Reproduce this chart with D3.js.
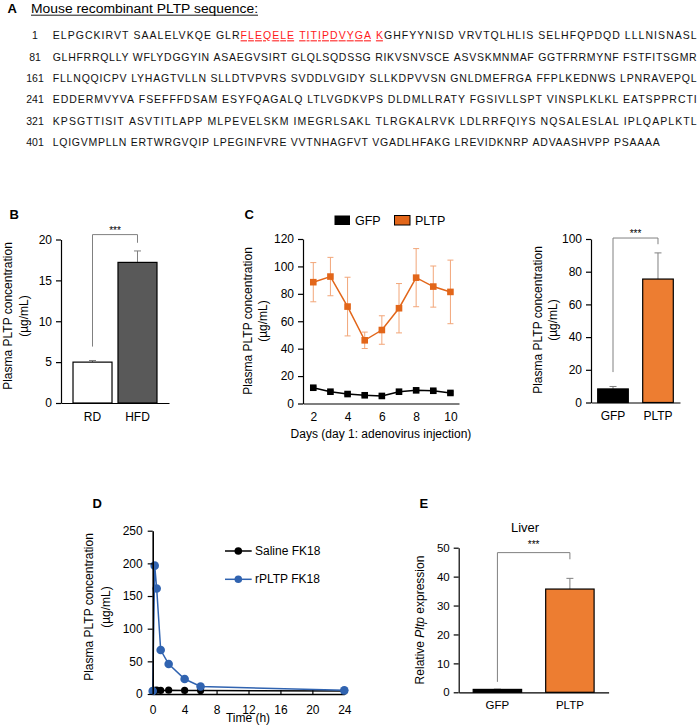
<!DOCTYPE html>
<html><head><meta charset="utf-8">
<script src="https://cdn.jsdelivr.net/npm/d3@7"></script>
<style>body{margin:0;background:#fff} svg{display:block} text{font-family:"Liberation Sans",Arial,sans-serif}</style>
</head><body><svg id="c" width="700" height="725"></svg>
<script>
// ---------- DATA ----------
const seqTitle = "Mouse recombinant PLTP sequence:";
const seqStarts = [1, 81, 161, 241, 321, 401];
const seqLines = [
  "ELPGCKIRVT SAALELVKQE GLRFLEQELE TITIPDVYGA KGHFYYNISD VRVTQLHLIS SELHFQPDQD LLLNISNASL",
  "GLHFRRQLLY WFLYDGGYIN ASAEGVSIRT GLQLSQDSSG RIKVSNVSCE ASVSKMNMAF GGTFRRMYNF FSTFITSGMR",
  "FLLNQQICPV LYHAGTVLLN SLLDTVPVRS SVDDLVGIDY SLLKDPVVSN GNLDMEFRGA FFPLKEDNWS LPNRAVEPQL",
  "EDDERMVYVA FSEFFFDSAM ESYFQAGALQ LTLVGDKVPS DLDMLLRATY FGSIVLLSPT VINSPLKLKL EATSPPRCTI",
  "KPSGTTISIT ASVTITLAPP MLPEVELSKM IMEGRLSAKL TLRGKALRVK LDLRRFQIYS NQSALESLAL IPLQAPLKTL",
  "LQIGVMPLLN ERTWRGVQIP LPEGINFVRE VVTNHAGFVT VGADLHFAKG LREVIDKNRP ADVAASHVPP PSAAAA"
];
const peptideRange = [24, 41]; // residues highlighted (1-based, inclusive)

// Panel B
const bCats = ["RD", "HFD"];
const bVals = [5.0, 17.2];
const bErr = [0.2, 1.4];
const bTicks = [0, 5, 10, 15, 20];
const bBracket = [6.9, 20.6, 19.6];

// Panel C (time course)
const cDays = [2, 3, 4, 5, 6, 7, 8, 9, 10];
const cGFP = [11.5, 8.6, 6.9, 6.0, 5.5, 8.6, 9.6, 9.3, 7.7];
const cGFPErr = [1.0, 0.8, 0.8, 0.7, 0.7, 0.9, 1.0, 0.9, 0.8];
const cPLTP = [88.5, 92.6, 70.7, 46.1, 53.6, 69.5, 91.8, 85.3, 81.4];
const cPLTPErr = [14.3, 14.0, 21.4, 6.0, 10.4, 18.0, 21.2, 15.0, 23.2];
const cTicksY = [0, 20, 40, 60, 80, 100, 120];
const cTicksX = [2, 4, 6, 8, 10];
const cSeries = ["GFP", "PLTP"];

// Panel C (bar)
const c2Cats = ["GFP", "PLTP"];
const c2Vals = [8.3, 75.5];
const c2Err = [1.5, 16.0];
const c2Ticks = [0, 20, 40, 60, 80, 100];
const c2Bracket = [18.6, 100.6, 96.8];

// Panel D
const dTimes = [0, 0.25, 0.5, 1, 2, 4, 6, 24];
const dSaline = [5.0, 5.5, 6.0, 5.5, 5.8, 5.5, 5.2, 4.5];
const dRPLTP = [4.6, 196.5, 161.5, 67.3, 45.9, 22.9, 11.5, 5.6];
const dTicksX = [0, 4, 8, 12, 16, 20, 24];
const dTicksY = [0, 50, 100, 150, 200, 250];
const dSeries = ["Saline FK18", "rPLTP FK18"];

// Panel E
const eCats = ["GFP", "PLTP"];
const eVals = [1.0, 35.7];
const eErr = [0.1, 3.7];
const eTicks = [0, 10, 20, 30, 40, 50];
const eBracket = [3.6, 48.3, 46.0];

// ---------- STYLE ----------
const FONT = '"Liberation Sans", Arial, sans-serif';
const ORANGE = "#ED7D31", LINE_OR = "#E2661A", ERR_OR = "#F2A679", BLUE = "#3063B0", GREY = "#808080";

const svg = d3.select("#c");
svg.append("rect").attr("width", 700).attr("height", 725).attr("fill", "#fff");

function styleAxis(g, fs) {
  g.attr("font-family", FONT).attr("font-size", fs);
  g.selectAll("path.domain").attr("stroke", "#000").attr("stroke-width", 1.2);
  g.selectAll(".tick line").attr("stroke", "#000").attr("stroke-width", 1.2);
  g.selectAll(".tick text").attr("fill", "#000");
}
function yLabel(lines, xs, cy, fs) {
  lines.forEach((l, i) => {
    const t = svg.append("text").attr("transform", `translate(${xs[i]},${cy}) rotate(-90)`)
      .attr("text-anchor", "middle").attr("dominant-baseline", "central").attr("font-size", fs).attr("fill", "#000");
    if (Array.isArray(l)) l.forEach(p => t.append("tspan").attr("font-style", p.i ? "italic" : null).text(p.t));
    else t.text(l);
  });
}
function panelLetter(s, x, y) {
  svg.append("text").attr("x", x).attr("y", y).attr("font-size", 13).attr("font-weight", "bold").text(s);
}
function bracket(xL, xR, y, vals, starsY) {
  svg.append("path").attr("d", `M${xL},${y(vals[0])}V${y(vals[1])}H${xR}V${y(vals[2])}`)
    .attr("fill", "none").attr("stroke", GREY).attr("stroke-width", 1);
  svg.append("text").attr("x", (xL + xR) / 2).attr("y", starsY).attr("text-anchor", "middle")
    .attr("font-size", 10).attr("fill", "#000").text("***");
}
function barPanel(cfg) {
  const x = d3.scaleBand().domain(cfg.cats).range(cfg.xr).paddingInner(cfg.pi).paddingOuter(cfg.po);
  const y = d3.scaleLinear().domain([0, cfg.ymax]).range(cfg.yr);
  cfg.cats.forEach((c, i) => {
    const cx = x(c) + x.bandwidth() / 2;
    const g = svg.append("g").attr("stroke", GREY).attr("stroke-width", 1);
    g.append("line").attr("x1", cx).attr("x2", cx).attr("y1", y(cfg.vals[i])).attr("y2", y(cfg.vals[i] + cfg.err[i]));
    g.append("line").attr("x1", cx - 3.5).attr("x2", cx + 3.5).attr("y1", y(cfg.vals[i] + cfg.err[i])).attr("y2", y(cfg.vals[i] + cfg.err[i]));
  });
  svg.append("g").selectAll("rect").data(cfg.cats).join("rect")
    .attr("x", d => x(d)).attr("width", x.bandwidth())
    .attr("y", (d, i) => y(cfg.vals[i])).attr("height", (d, i) => y(0) - y(cfg.vals[i]))
    .attr("fill", (d, i) => cfg.colors[i]).attr("stroke", "#000").attr("stroke-width", 1.2);
  const ya = svg.append("g").attr("transform", `translate(${cfg.xr[0]},0)`)
    .call(d3.axisLeft(y).tickValues(cfg.ticks).tickSize(5).tickSizeOuter(0).tickPadding(4));
  styleAxis(ya, cfg.fs);
  const xa = svg.append("g").attr("transform", `translate(0,${cfg.yr[0]})`)
    .call(d3.axisBottom(x).tickSize(0).tickSizeOuter(0).tickPadding(cfg.xpad));
  styleAxis(xa, cfg.fs);
  const cx = c => x(c) + x.bandwidth() / 2;
  bracket(cx(cfg.cats[0]), cx(cfg.cats[1]), y, cfg.bracket, cfg.starsY);
  return { x, y };
}

// ---------- PANEL A ----------
panelLetter("A", 7.5, 12.7);
svg.append("text").attr("x", 31).attr("y", 12.7).attr("font-size", 12.5)
  .attr("textLength", 227).attr("lengthAdjust", "spacingAndGlyphs").text(seqTitle);
svg.append("line").attr("x1", 31).attr("x2", 258).attr("y1", 15.2).attr("y2", 15.2).attr("stroke", "#000").attr("stroke-width", 0.9);

const seqTexts = [];
seqLines.forEach((line, i) => {
  const y = 39.3 + i * 21.3;
  svg.append("text").attr("x", 35).attr("y", y).attr("text-anchor", "middle").attr("font-size", 10.5).attr("fill", "#111").text(seqStarts[i]);
  const t = svg.append("text").attr("x", 52.7).attr("y", y).attr("font-size", 10.5).attr("fill", "#111");
  let pos = seqStarts[i];
  line.split(" ").forEach((grp, gi) => {
    let seg = gi > 0 ? "\u00A0" : "", segRed = false;
    const flush = () => {
      if (!seg) return;
      const ts = t.append("tspan").text(seg);
      if (segRed) ts.attr("fill", "#FF1A1A").attr("text-decoration", "underline");
      seg = "";
    };
    for (const ch of grp) {
      const red = pos >= peptideRange[0] && pos <= peptideRange[1];
      if (red !== segRed) flush();
      seg += ch; segRed = red; pos++;
    }
    flush();
    segRed = false;
  });
  seqTexts.push(t);
});
// full lines are justified to the column width; the shorter last line keeps a natural width
const lineWidths = [644, 644, 644, 644, 644, 607];
seqTexts.forEach((t, i) => t.attr("textLength", lineWidths[i]).attr("lengthAdjust", "spacing"));

// ---------- PANEL B ----------
panelLetter("B", 9.5, 219);
barPanel({ cats: bCats, vals: bVals, err: bErr, colors: ["#fff", "#595959"], xr: [61, 169], pi: 0.133, po: 0.267,
  ymax: 20, yr: [403, 239.5], ticks: bTicks, fs: 12, xpad: 9, bracket: bBracket, starsY: 234 });
yLabel(["Plasma PLTP concentration", "(µg/mL)"], [7.5, 23.5], 316, 12);

// ---------- PANEL C line ----------
panelLetter("C", 244.5, 219);
{
  const x = d3.scaleLinear().domain([1.4, 10.5]).range([303, 459]);
  const y = d3.scaleLinear().domain([0, 120]).range([403.5, 239]);
  const series = [
    { name: cSeries[0], v: cGFP, e: cGFPErr, line: "#000", err: "#000" },
    { name: cSeries[1], v: cPLTP, e: cPLTPErr, line: LINE_OR, err: ERR_OR }
  ];
  series.forEach(s => {
    const g = svg.append("g");
    cDays.forEach((d, i) => {
      const cx = x(d);
      g.append("line").attr("x1", cx).attr("x2", cx).attr("y1", y(s.v[i] - s.e[i])).attr("y2", y(s.v[i] + s.e[i])).attr("stroke", s.err).attr("stroke-width", 1);
      [s.v[i] - s.e[i], s.v[i] + s.e[i]].forEach(vv =>
        g.append("line").attr("x1", cx - 3).attr("x2", cx + 3).attr("y1", y(vv)).attr("y2", y(vv)).attr("stroke", s.err).attr("stroke-width", 1));
    });
    g.append("path").datum(cDays).attr("fill", "none").attr("stroke", s.line).attr("stroke-width", 1.5)
      .attr("d", d3.line().x(d => x(d)).y((d, i) => y(s.v[i])));
    g.selectAll("rect").data(cDays).join("rect")
      .attr("x", d => x(d) - 3.3).attr("y", (d, i) => y(s.v[i]) - 3.3).attr("width", 6.6).attr("height", 6.6).attr("fill", s.line);
  });
  const ya = svg.append("g").attr("transform", "translate(303,0)")
    .call(d3.axisLeft(y).tickValues(cTicksY).tickSize(5).tickSizeOuter(0).tickPadding(4));
  styleAxis(ya, 12);
  const xa = svg.append("g").attr("transform", "translate(0,403.5)")
    .call(d3.axisBottom(x).tickValues(cTicksX).tickSize(0).tickSizeOuter(0).tickPadding(9));
  styleAxis(xa, 12);
  svg.append("text").attr("x", 381).attr("y", 438).attr("text-anchor", "middle").attr("font-size", 12).text("Days (day 1: adenovirus injection)");
  yLabel(["Plasma PLTP concentration", "(µg/mL)"], [247.5, 262.5], 321, 12);
  svg.append("rect").attr("x", 334.5).attr("y", 215.5).attr("width", 15.5).attr("height", 9.5).attr("fill", "#000");
  svg.append("text").attr("x", 355).attr("y", 221).attr("dominant-baseline", "central").attr("font-size", 12.5).text(cSeries[0]);
  svg.append("rect").attr("x", 394.5).attr("y", 215.5).attr("width", 15.5).attr("height", 9.5).attr("fill", LINE_OR).attr("stroke", "#000").attr("stroke-width", 1);
  svg.append("text").attr("x", 415).attr("y", 221).attr("dominant-baseline", "central").attr("font-size", 12.5).text(cSeries[1]);
}

// ---------- PANEL C bar ----------
barPanel({ cats: c2Cats, vals: c2Vals, err: c2Err, colors: ["#000", ORANGE], xr: [591, 680], pi: 0.32, po: 0.149,
  ymax: 100, yr: [402.5, 239], ticks: c2Ticks, fs: 12, xpad: 9, bracket: c2Bracket, starsY: 236.5 });
yLabel(["Plasma PLTP concentration", "(µg/mL)"], [538, 553], 320, 12);

// ---------- PANEL D ----------
panelLetter("D", 92.5, 508.3);
{
  const x = d3.scaleLinear().domain([0, 24]).range([152.7, 344.3]);
  const y = d3.scaleLinear().domain([0, 250]).range([694, 530.7]);
  const series = [
    { name: dSeries[0], v: dSaline, c: "#000", r: 3.6 },
    { name: dSeries[1], v: dRPLTP, c: BLUE, r: 4.3 }
  ];
  const xa = svg.append("g").attr("transform", "translate(0,694)")
    .call(d3.axisBottom(x).tickValues(dTicksX).tickSize(-4).tickSizeOuter(0).tickPadding(11));
  styleAxis(xa, 12);
  xa.select("path.domain").attr("stroke-width", 1.6);
  series.forEach(s => {
    const g = svg.append("g");
    g.append("path").datum(dTimes).attr("fill", "none").attr("stroke", s.c).attr("stroke-width", 1.5)
      .attr("d", d3.line().x(d => x(d)).y((d, i) => y(s.v[i])));
    g.selectAll("circle").data(dTimes).join("circle")
      .attr("cx", d => x(d)).attr("cy", (d, i) => y(s.v[i])).attr("r", s.r).attr("fill", s.c);
  });
  const ya = svg.append("g").attr("transform", "translate(152.7,0)")
    .call(d3.axisLeft(y).tickValues(dTicksY).tickSize(5).tickSizeOuter(0).tickPadding(5));
  styleAxis(ya, 12);
  ya.select("path.domain").attr("stroke-width", 1.6);
  svg.append("text").attr("x", 248).attr("y", 722).attr("text-anchor", "middle").attr("font-size", 12).text("Time (h)");
  yLabel(["Plasma PLTP concentration", "(µg/mL)"], [88.5, 105.5], 607, 12);
  series.forEach((s, i) => {
    const ly = 551 + i * 28.3;
    svg.append("line").attr("x1", 225).attr("x2", 251.7).attr("y1", ly).attr("y2", ly).attr("stroke", s.c).attr("stroke-width", 1.5);
    svg.append("circle").attr("cx", 238.3).attr("cy", ly).attr("r", 3.8).attr("fill", s.c);
    svg.append("text").attr("x", 255).attr("y", ly).attr("dominant-baseline", "central").attr("font-size", 12).text(s.name);
  });
}

// ---------- PANEL E ----------
panelLetter("E", 419.5, 508.3);
svg.append("text").attr("x", 525).attr("y", 527).attr("text-anchor", "middle").attr("dominant-baseline", "central").attr("font-size", 13).text("Liver");
barPanel({ cats: eCats, vals: eVals, err: eErr, colors: ["#000", ORANGE], xr: [458.7, 608.6], pi: 0.332, po: 0.2,
  ymax: 50, yr: [692.3, 547.7], ticks: eTicks, fs: 11.5, xpad: 9, bracket: eBracket, starsY: 548 });
yLabel([[{ t: "Relative " }, { t: "Pltp", i: true }, { t: " expression" }]], [420], 620, 12);
</script></body></html>
